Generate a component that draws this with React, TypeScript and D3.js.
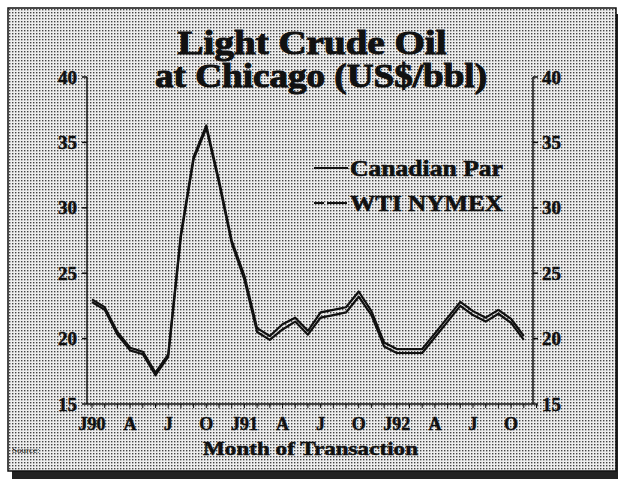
import React, { useEffect, useRef } from "react";
import * as d3 from "d3";

// monthly prices, Jan 1990 .. Nov 1992 (US$/bbl)
const wtiNymex = [
  23.0, 22.4, 20.5, 19.3, 19.0, 17.4, 18.8, 28.0, 33.9, 36.3, 32.1, 27.5,
  24.8, 20.8, 20.2, 21.1, 21.6, 20.6, 22.0, 22.2, 22.4, 23.6, 22.1, 19.7,
  19.2, 19.2, 19.2, 20.4, 21.6, 22.8, 22.1, 21.6, 22.2, 21.5, 20.2,
];
const canadianPar = [
  22.8, 22.2, 20.3, 19.1, 18.8, 17.2, 18.6, 27.8, 33.7, 36.1, 31.9, 27.3,
  24.5, 20.5, 19.9, 20.7, 21.3, 20.3, 21.6, 21.8, 22.0, 23.2, 21.8, 19.4,
  18.9, 18.9, 18.9, 20.1, 21.3, 22.5, 21.8, 21.3, 21.9, 21.2, 19.9,
];
const monthLabels = ["J90", "A", "J", "O", "J91", "A", "J", "O", "J92", "A", "J", "O"];
const yTicks = [15, 20, 25, 30, 35, 40];
const seriesNames = ["Canadian Par", "WTI NYMEX"];

const serif = "'Liberation Serif', 'Times New Roman', serif";

const App = () => {
  const ref = useRef<SVGSVGElement | null>(null);

  useEffect(() => {
    const svg = d3.select(ref.current);
    svg.selectAll("*").remove();

    const width = 624;
    const height = 480;

    // halftone-ish background
    const defs = svg.append("defs");
    const pat = defs
      .append("pattern")
      .attr("id", "dither")
      .attr("width", 3)
      .attr("height", 3)
      .attr("patternUnits", "userSpaceOnUse");
    pat.append("rect").attr("width", 3).attr("height", 3).attr("fill", "#eeeeee");
    pat.append("rect").attr("width", 1.4).attr("height", 1.4).attr("fill", "#444");

    svg.append("rect").attr("width", width).attr("height", height).attr("fill", "#fff");
    // shadow
    svg.append("rect").attr("x", 12).attr("y", 14).attr("width", 606).attr("height", 465).attr("fill", "#222");
    svg
      .append("rect")
      .attr("x", 8)
      .attr("y", 8)
      .attr("width", 608)
      .attr("height", 463)
      .attr("fill", "url(#dither)")
      .attr("stroke", "#111")
      .attr("stroke-width", 1.5);

    const x = d3.scaleLinear().domain([0, 35]).range([92, 92 + 35 * 12.7]);
    const y = d3.scaleLinear().domain([15, 40]).range([404, 77]);
    const left = 87;
    const right = 533;

    // frame: left, right, bottom
    const g = svg.append("g").attr("stroke", "#111").attr("stroke-width", 1.5);
    g.append("line").attr("x1", left).attr("x2", left).attr("y1", y(40)).attr("y2", y(15));
    g.append("line").attr("x1", right).attr("x2", right).attr("y1", y(40)).attr("y2", y(15));
    g.append("line").attr("x1", left).attr("x2", right).attr("y1", y(15)).attr("y2", y(15));

    // y ticks both sides
    yTicks.forEach((t) => {
      g.append("line").attr("x1", left - 5).attr("x2", left).attr("y1", y(t)).attr("y2", y(t));
      g.append("line").attr("x1", right).attr("x2", right + 5).attr("y1", y(t)).attr("y2", y(t));
    });
    const labelStyle = (sel: any) =>
      sel
        .attr("font-family", serif)
        .attr("font-weight", "bold")
        .attr("font-size", 19)
        .attr("fill", "#111")
        .attr("stroke", "#111")
        .attr("stroke-width", 0.5)
        .attr("dominant-baseline", "central");
    svg
      .append("g")
      .selectAll("text")
      .data(yTicks)
      .join("text")
      .attr("x", left - 10)
      .attr("y", (d) => y(d))
      .attr("text-anchor", "end")
      .text((d) => d)
      .call(labelStyle);
    svg
      .append("g")
      .selectAll("text")
      .data(yTicks)
      .join("text")
      .attr("x", right + 9)
      .attr("y", (d) => y(d))
      .attr("text-anchor", "start")
      .text((d) => d)
      .call(labelStyle);

    // monthly ticks along bottom
    svg
      .append("g")
      .selectAll("line")
      .data(d3.range(0, 36))
      .join("line")
      .attr("x1", (d) => x(d))
      .attr("x2", (d) => x(d))
      .attr("y1", y(15))
      .attr("y2", y(15) + 4)
      .attr("stroke", "#111")
      .attr("stroke-width", 1);

    svg
      .append("g")
      .selectAll("text")
      .data(monthLabels)
      .join("text")
      .attr("x", (_, i) => x(i * 3))
      .attr("y", 430)
      .attr("text-anchor", "middle")
      .attr("font-family", serif)
      .attr("font-weight", "bold")
      .attr("font-size", 18)
      .attr("fill", "#111")
      .attr("stroke", "#111")
      .attr("stroke-width", 0.5)
      .text((d) => d);

    // lines
    const line = d3
      .line<number>()
      .x((_, i) => x(i))
      .y((d) => y(d));
    [canadianPar, wtiNymex].forEach((s) => {
      svg
        .append("path")
        .datum(s)
        .attr("fill", "none")
        .attr("stroke", "#111")
        .attr("stroke-width", 2.2)
        .attr("stroke-linejoin", "round")
        .attr("d", line);
    });

    // legend
    const legendY = [168, 203];
    seriesNames.forEach((name, i) => {
      svg
        .append("line")
        .attr("x1", 314)
        .attr("x2", 348)
        .attr("y1", legendY[i])
        .attr("y2", legendY[i])
        .attr("stroke", "#111")
        .attr("stroke-width", 2)
        .attr("stroke-dasharray", i === 1 ? "10 3 20" : null);
      svg
        .append("text")
        .attr("x", 350)
        .attr("y", legendY[i] + 8)
        .attr("font-family", serif)
        .attr("font-weight", "bold")
        .attr("font-size", 23)
        .attr("fill", "#111")
        .attr("stroke", "#111")
        .attr("stroke-width", 0.6)
        .attr("textLength", 153)
        .attr("lengthAdjust", "spacingAndGlyphs")
        .text(name);
    });

    // title
    const title = [
      { t: "Light Crude Oil", cx: 312, y: 54, len: 269 },
      { t: "at Chicago (US$/bbl)", cx: 321, y: 87, len: 332 },
    ];
    title.forEach((d) => {
      svg
        .append("text")
        .attr("x", d.cx - d.len / 2)
        .attr("y", d.y)
        .attr("font-family", serif)
        .attr("font-weight", "bold")
        .attr("font-size", 33)
        .attr("fill", "#111")
        .attr("stroke", "#111")
        .attr("stroke-width", 1)
        .attr("textLength", d.len)
        .attr("lengthAdjust", "spacingAndGlyphs")
        .text(d.t);
    });

    svg
      .append("text")
      .attr("x", 203)
      .attr("y", 455)
      .attr("font-family", serif)
      .attr("font-weight", "bold")
      .attr("font-size", 19)
      .attr("fill", "#111")
      .attr("stroke", "#111")
      .attr("stroke-width", 0.5)
      .attr("textLength", 215)
      .attr("lengthAdjust", "spacingAndGlyphs")
      .text("Month of Transaction");

    svg
      .append("text")
      .attr("x", 12)
      .attr("y", 453)
      .attr("font-family", serif)
      .attr("font-size", 9)
      .attr("fill", "#111")
      .text("Source:");
  }, []);

  return (
    <div style={{ position: "absolute", left: 0, top: 0 }}>
      <svg ref={ref} width={624} height={480} style={{ display: "block" }} />
    </div>
  );
};

export default App;
